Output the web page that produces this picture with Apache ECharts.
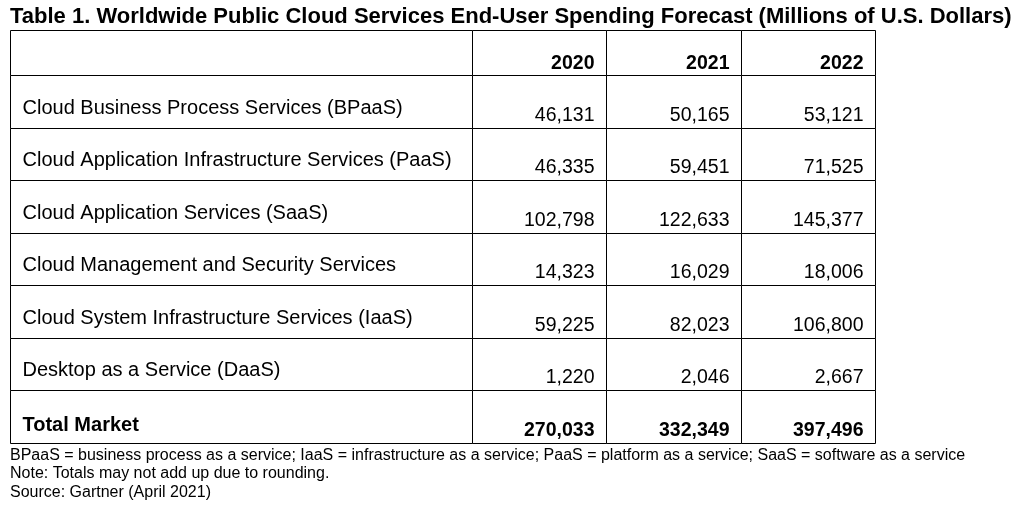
<!DOCTYPE html>
<html><head><meta charset="utf-8">
<script src="https://cdn.jsdelivr.net/npm/echarts@6/dist/echarts.min.js"></script>
<style>html,body{margin:0;padding:0;background:#fff}#c{width:1017px;height:507px}</style>
</head><body><div id="c"></div>
<script>
const titleText = 'Table 1. Worldwide Public Cloud Services End-User Spending Forecast (Millions of U.S. Dollars)';
const years = ['2020', '2021', '2022'];
const rows = [
  'Cloud Business Process Services (BPaaS)',
  'Cloud Application Infrastructure Services (PaaS)',
  'Cloud Application Services (SaaS)',
  'Cloud Management and Security Services',
  'Cloud System Infrastructure Services (IaaS)',
  'Desktop as a Service (DaaS)',
  'Total Market'
];
const v2020 = [46131, 46335, 102798, 14323, 59225, 1220, 270033];
const v2021 = [50165, 59451, 122633, 16029, 82023, 2046, 332349];
const v2022 = [53121, 71525, 145377, 18006, 106800, 2667, 397496];
const notes = [
  'BPaaS = business process as a service; IaaS = infrastructure as a service; PaaS = platform as a service; SaaS = software as a service',
  'Note: Totals may not add up due to rounding.',
  'Source: Gartner (April 2021)'
];

const FONT = '"Liberation Sans", Arial, Helvetica, sans-serif';
const NUM_FS = 19.5;
const LABEL_FS = 20;
const values = [v2020, v2021, v2022];
const totalIdx = rows.length - 1;
const crisp = v => Math.round(v) + 0.5;

function cellRect(api) {
  const c = api.coord([api.value(0), api.value(1)]);
  const s = api.size([1, 1]);
  const x0 = crisp(c[0] - s[0] / 2), x1 = crisp(c[0] + s[0] / 2);
  const y0 = crisp(c[1] - s[1] / 2), y1 = crisp(c[1] + s[1] / 2);
  return { x0, x1, y0, y1 };
}
function rectEl(r) {
  return { type: 'rect', shape: { x: r.x0, y: r.y0, width: r.x1 - r.x0, height: r.y1 - r.y0 },
    style: { fill: '#fff', stroke: '#000', lineWidth: 1 } };
}
function textEl(x, y, text, align, bold, fs) {
  return { type: 'text', x: x, y: y, z2: 10,
    style: { text: text, align: align, verticalAlign: 'middle', fill: '#000',
      fontSize: fs, fontFamily: FONT, fontWeight: bold ? 'bold' : 'normal' } };
}

const labelData = rows.map((r, i) => [0, i]);
const numData = [];
rows.forEach((r, i) => years.forEach((y, j) => numData.push([j, i, values[j][i]])));
const headData = years.map((y, j) => [j, 0]);

const chart = echarts.init(document.getElementById('c'), null, { renderer: 'canvas' });
chart.setOption({
  animation: false,
  backgroundColor: '#fff',
  title: [
    { text: titleText, left: 10, top: 6, padding: 0,
      textStyle: { fontSize: 22, fontWeight: 'bold', color: '#000', fontFamily: FONT } },
    { text: notes.join('\n'), left: 10, top: 446, padding: 0,
      textStyle: { fontSize: 16, lineHeight: 18.5, fontWeight: 'normal', color: '#000', fontFamily: FONT } }
  ],
  grid: [
    { left: 10, top: 75, width: 462, height: 368 },
    { left: 472, top: 75, width: 403, height: 368 },
    { left: 10, top: 30, width: 462, height: 45 },
    { left: 472, top: 30, width: 403, height: 45 }
  ],
  xAxis: [
    { gridIndex: 0, type: 'category', data: ['label'], show: false },
    { gridIndex: 1, type: 'category', data: years, show: false },
    { gridIndex: 2, type: 'category', data: ['label'], show: false },
    { gridIndex: 3, type: 'category', data: years, show: false }
  ],
  yAxis: [
    { gridIndex: 0, type: 'category', data: rows, inverse: true, show: false },
    { gridIndex: 1, type: 'category', data: rows, inverse: true, show: false },
    { gridIndex: 2, type: 'category', data: ['header'], show: false },
    { gridIndex: 3, type: 'category', data: ['header'], show: false }
  ],
  series: [
    { type: 'custom', xAxisIndex: 0, yAxisIndex: 0, data: labelData, silent: true,
      renderItem: (params, api) => {
        const r = cellRect(api);
        const i = api.value(1);
        const isT = i === totalIdx;
        return { type: 'group', children: [rectEl(r),
          textEl(r.x0 + 12, r.y1 - (isT ? 18.5 : 20), rows[i], 'left', isT, LABEL_FS)] };
      } },
    { type: 'custom', xAxisIndex: 1, yAxisIndex: 1, data: numData, silent: true,
      renderItem: (params, api) => {
        const r = cellRect(api);
        const i = api.value(1);
        const isT = i === totalIdx;
        return { type: 'group', children: [rectEl(r),
          textEl(r.x1 - 12, r.y1 - 13, api.value(2).toLocaleString('en-US'), 'right', isT, NUM_FS)] };
      } },
    { type: 'custom', xAxisIndex: 2, yAxisIndex: 2, data: [[0, 0]], silent: true,
      renderItem: (params, api) => rectEl(cellRect(api)) },
    { type: 'custom', xAxisIndex: 3, yAxisIndex: 3, data: headData, silent: true,
      renderItem: (params, api) => {
        const r = cellRect(api);
        return { type: 'group', children: [rectEl(r),
          textEl(r.x1 - 12, r.y1 - 11.5, years[api.value(0)], 'right', true, NUM_FS)] };
      } }
  ]
});
</script></body></html>
